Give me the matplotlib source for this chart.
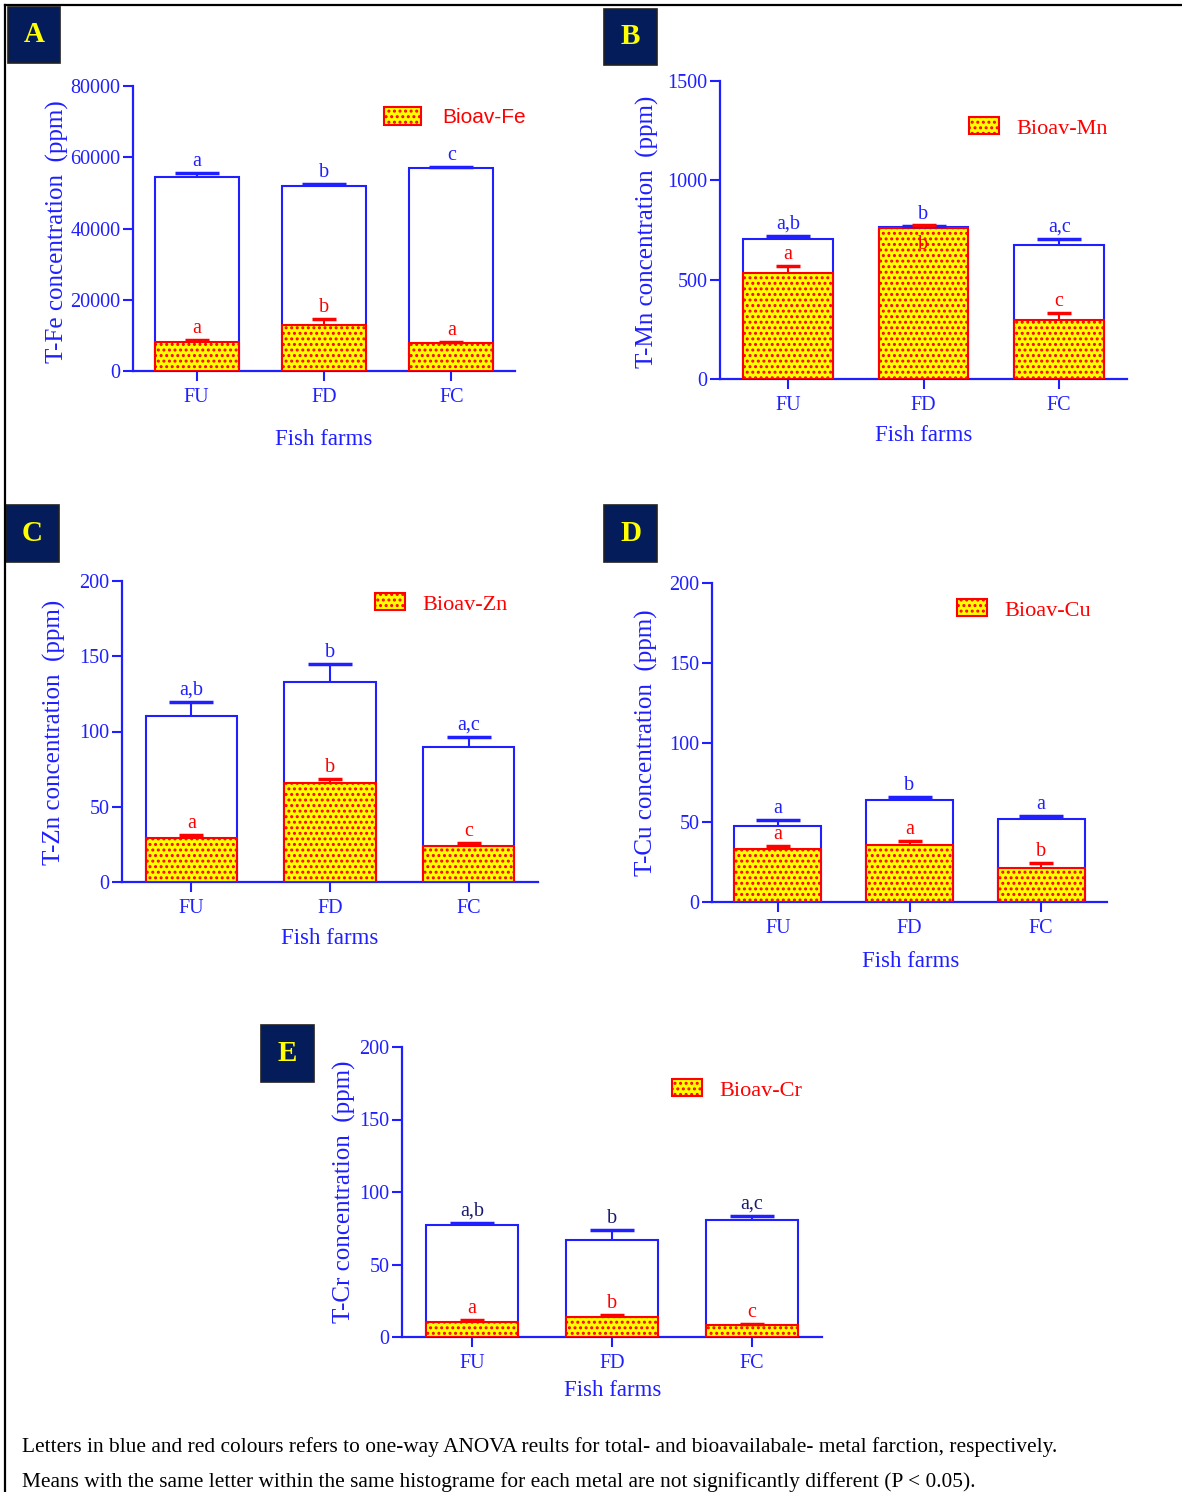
import matplotlib
matplotlib.use('Agg')
import matplotlib.pyplot as plt
from matplotlib.patches import Rectangle
from matplotlib.lines import Line2D

plt.rcParams['font.family'] = 'serif'
plt.rcParams['font.serif'] = ['Liberation Serif', 'DejaVu Serif']
plt.rcParams['hatch.linewidth'] = 1.4

W, H = 1182, 1492
BLUE = '#1f1fff'
RED = '#ff0000'
YELLOW = '#ffff00'
NAVY = '#041c5a'

farms = ['FU', 'FD', 'FC']

# total and bioavailable concentrations (ppm)
fe_total = [54500, 52000, 57000]
fe_total_err = [1000, 600, 200]
fe_bioav = [8200, 12900, 7900]
fe_bioav_err = [500, 1700, 300]
fe_total_let = ['a', 'b', 'c']
fe_bioav_let = ['a', 'b', 'a']

mn_total = [703, 767, 674]
mn_total_err = [17, 3, 32]
mn_bioav = [535, 762, 297]
mn_bioav_err = [35, 12, 35]
mn_total_let = ['a,b', 'b', 'a,c']
mn_bioav_let = ['a', 'b', 'c']

zn_total = [110.3, 132.9, 89.7]
zn_total_err = [9.3, 12.0, 6.6]
zn_bioav = [29.2, 65.8, 23.9]
zn_bioav_err = [2.0, 2.6, 2.0]
zn_total_let = ['a,b', 'b', 'a,c']
zn_bioav_let = ['a', 'b', 'c']

cu_total = [47.6, 64.0, 52.0]
cu_total_err = [3.8, 1.8, 1.9]
cu_bioav = [33.2, 35.7, 21.3]
cu_bioav_err = [1.9, 2.5, 3.2]
cu_total_let = ['a', 'b', 'a']
cu_bioav_let = ['a', 'a', 'b']

cr_total = [77.2, 66.9, 80.7]
cr_total_err = [1.4, 6.9, 2.7]
cr_bioav = [10.3, 13.8, 8.3]
cr_bioav_err = [1.4, 1.4, 0.7]
cr_total_let = ['a,b', 'b', 'a,c']
cr_bioav_let = ['a', 'b', 'c']

fe_ticks = [0, 20000, 40000, 60000, 80000]
mn_ticks = [0, 500, 1000, 1500]
ppm_ticks = [0, 50, 100, 150, 200]


def px_rect(left, top, right, bottom):
    return [left / W, 1 - bottom / H, (right - left) / W, (bottom - top) / H]


def upper_errorbar(ax, x, y, err, color, capsize):
    # only the upper whisker, as in GraphPad
    _, caps, _ = ax.errorbar(x, y, yerr=[[0] * len(err), err], fmt='none', ecolor=color,
                             elinewidth=1.5, capsize=capsize, capthick=2.5, zorder=5)
    caps[0].set_visible(False)


fig = plt.figure(figsize=(W / 100, H / 100), dpi=100)

# frame lines around the figure
fig.add_artist(Line2D([5 / W, 1], [1 - 5 / H, 1 - 5 / H], color='black', lw=1.6))
fig.add_artist(Line2D([5 / W, 5 / W], [1 - 5 / H, 0], color='black', lw=1.6))

panels = [
    dict(tag='A', metal='Fe', rect=(133, 86, 515, 371), box=(8, 7, 60, 63),
         total=fe_total, total_err=fe_total_err, bioav=fe_bioav, bioav_err=fe_bioav_err,
         total_let=fe_total_let, bioav_let=fe_bioav_let, ticks=fe_ticks,
         ylab=(-0.199, 0.488), xlab=(0.5, -0.239), leg=(384, 117), sans=True, letcol=BLUE),
    dict(tag='B', metal='Mn', rect=(720, 81, 1127, 379), box=(604, 9, 657, 65),
         total=mn_total, total_err=mn_total_err, bioav=mn_bioav, bioav_err=mn_bioav_err,
         total_let=mn_total_let, bioav_let=mn_bioav_let, ticks=mn_ticks,
         ylab=(-0.179, 0.493), xlab=(0.5, -0.188), leg=(969, 128), sans=False, letcol=BLUE),
    dict(tag='C', metal='Zn', rect=(122, 581, 538, 882), box=(6, 505, 59, 562),
         total=zn_total, total_err=zn_total_err, bioav=zn_bioav, bioav_err=zn_bioav_err,
         total_let=zn_total_let, bioav_let=zn_bioav_let, ticks=ppm_ticks,
         ylab=(-0.163, 0.498), xlab=(0.5, -0.189), leg=(375, 604), sans=False, letcol=BLUE),
    dict(tag='D', metal='Cu', rect=(712, 583, 1107, 902), box=(604, 505, 657, 562),
         total=cu_total, total_err=cu_total_err, bioav=cu_bioav, bioav_err=cu_bioav_err,
         total_let=cu_total_let, bioav_let=cu_bioav_let, ticks=ppm_ticks,
         ylab=(-0.167, 0.5), xlab=(0.504, -0.185), leg=(957, 610), sans=False, letcol=BLUE),
    dict(tag='E', metal='Cr', rect=(402, 1047, 822, 1337), box=(261, 1025, 314, 1082),
         total=cr_total, total_err=cr_total_err, bioav=cr_bioav, bioav_err=cr_bioav_err,
         total_let=cr_total_let, bioav_let=cr_bioav_let, ticks=ppm_ticks,
         ylab=(-0.136, 0.5), xlab=(0.502, -0.183), leg=(672, 1090), sans=False, letcol='#1a1a70'),
]

for p in panels:
    ax = fig.add_axes(px_rect(*p['rect']))
    x = range(len(farms))
    ax.bar(x, p['total'], width=0.66, color='white', edgecolor=BLUE, lw=1.5, zorder=2)
    upper_errorbar(ax, x, p['total'], p['total_err'], BLUE, 16)
    bio = ax.bar(x, p['bioav'], width=0.66, color=YELLOW, edgecolor=RED, lw=1.5,
                 hatch='...', zorder=4, label='Bioav-' + p['metal'])
    upper_errorbar(ax, x, p['bioav'], p['bioav_err'], RED, 8.5)

    for i in x:
        ax.annotate(p['total_let'][i], (i, p['total'][i] + p['total_err'][i]),
                    xytext=(0, 1.5), textcoords='offset points', ha='center', va='bottom',
                    color=p['letcol'], fontsize=14.5, zorder=6)
        if p['tag'] == 'B' and i == 1:
            # label sits inside the filled bar in the original
            ax.annotate(p['bioav_let'][i], (i, p['bioav'][i]), xytext=(0, -5),
                        textcoords='offset points', ha='center', va='top',
                        color=RED, fontsize=14.5, zorder=6)
        else:
            ax.annotate(p['bioav_let'][i], (i, p['bioav'][i] + p['bioav_err'][i]),
                        xytext=(0, 1.5), textcoords='offset points', ha='center', va='bottom',
                        color=RED, fontsize=14.5, zorder=6)

    ax.set_xlim(-0.5, 2.5)
    ax.set_ylim(0, p['ticks'][-1])
    ax.set_yticks(p['ticks'])
    ax.set_xticks(list(x))
    ax.set_xticklabels(farms)
    for s in ['top', 'right']:
        ax.spines[s].set_visible(False)
    for s in ['left', 'bottom']:
        ax.spines[s].set_color(BLUE)
        ax.spines[s].set_linewidth(1.6)
    ax.tick_params(colors=BLUE, labelcolor=BLUE, length=7, width=1.5, labelsize=14.5)
    ax.tick_params(axis='x', pad=5.5)
    ax.tick_params(axis='y', pad=2)
    ax.set_facecolor('none')

    ax.set_ylabel('T-%s concentration  (ppm)' % p['metal'], color=BLUE, fontsize=18,
                  va='center', ha='center')
    ax.yaxis.set_label_coords(*p['ylab'])
    ax.set_xlabel('Fish farms', color=BLUE, fontsize=16.5, va='center', ha='center')
    ax.xaxis.set_label_coords(*p['xlab'])

    lx, ly = p['leg']
    if p['sans']:
        ax.legend(handles=[bio], loc='center left', bbox_to_anchor=(lx / W, 1 - ly / H),
                  bbox_transform=fig.transFigure, frameon=False, borderpad=0,
                  borderaxespad=0, handlelength=1.8, handleheight=1.0, handletextpad=1.0,
                  labelcolor=RED, prop={'family': 'Liberation Sans', 'size': 15})
    else:
        ax.legend(handles=[bio], loc='center left', bbox_to_anchor=(lx / W, 1 - ly / H),
                  bbox_transform=fig.transFigure, frameon=False, borderpad=0,
                  borderaxespad=0, handlelength=1.35, handleheight=0.77,
                  handletextpad=0.8, labelcolor=RED, prop={'size': 16})

    # panel letter box
    bl, bt, br, bb = p['box']
    fig.add_artist(Rectangle((bl / W, 1 - bb / H), (br - bl) / W, (bb - bt) / H,
                             transform=fig.transFigure, facecolor=NAVY, edgecolor='#222222',
                             lw=1.2))
    fig.text((bl + br) / 2 / W, 1 - (bt + bb) / 2 / H, p['tag'], color=YELLOW,
             fontsize=21, fontweight='bold', ha='center', va='center')

fig.text(22 / W, 1 - 1447 / H,
         'Letters in blue and red colours refers to one-way ANOVA reults for total- and '
         'bioavailabale- metal farction, respectively.', fontsize=15.4, va='center', ha='left')
fig.text(22 / W, 1 - 1482 / H,
         'Means with the same letter within the same histograme for each metal are not '
         'significantly different (P < 0.05).', fontsize=15.4, va='center', ha='left')

fig.savefig('out.png', dpi=100)
